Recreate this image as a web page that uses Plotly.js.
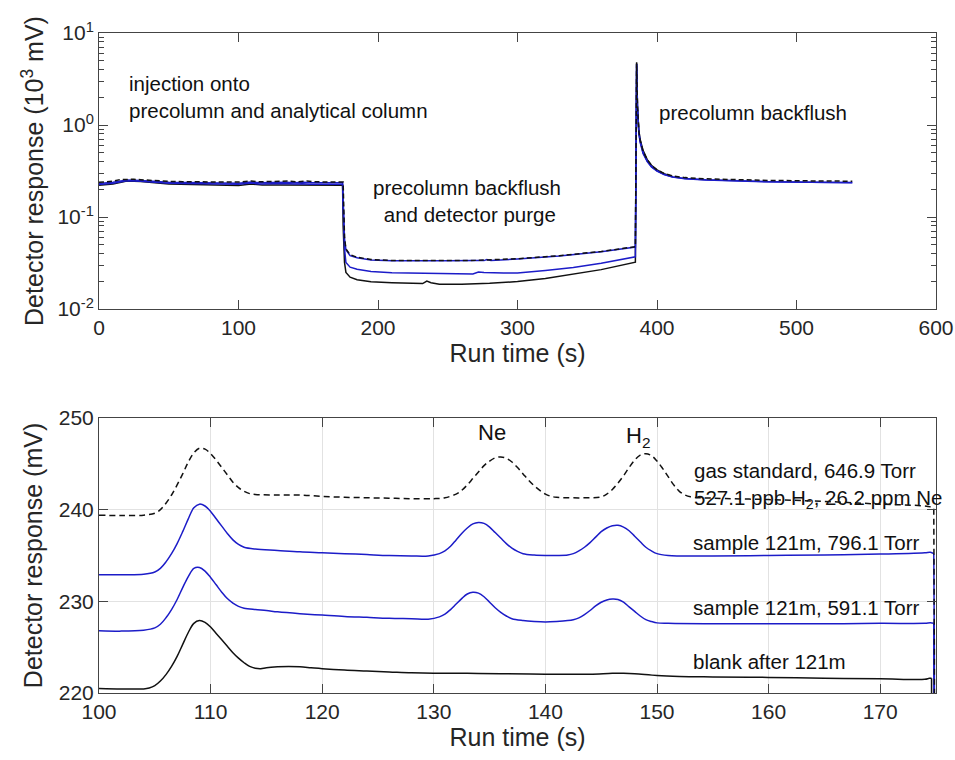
<!DOCTYPE html>
<html>
<head>
<meta charset="utf-8">
<script src="https://cdn.plot.ly/plotly-3.0.1.min.js"></script>
<style>html,body{margin:0;padding:0;background:#fff;}#chart{width:955px;height:760px;}</style>
</head>
<body>
<div id="chart"></div>
<script>
// ---------- Top panel (full run, units of 10^3 mV) ----------
var tTopStd = [0,5,10,15,20,25,30,40,50,60,80,100,109,115,136,142,149,155,175,175.5,176,177,180,185,195,210,230,250,270,300,330,360,384.5,385,385.4,386,387,388,390,393,396,400,405,411,420,435,455,480,510,540];
var vTopStd = [0.238,0.240,0.245,0.255,0.258,0.257,0.254,0.248,0.244,0.242,0.241,0.2395,0.2467,0.2416,0.2457,0.2413,0.2461,0.2413,0.2395,0.12,0.06,0.045,0.039,0.0365,0.0345,0.0337,0.0335,0.0336,0.0338,0.0352,0.0380,0.0422,0.0476,0.5,4.7,1.6,0.85,0.68,0.52,0.42,0.365,0.325,0.298,0.28,0.268,0.26,0.254,0.25,0.247,0.245];

var tTop796 = [0,10,20,30,50,80,100,109,115,134,140,146.5,152,174.6,175.5,176,177,180,185,195,210,230,250,270,276,278,281,300,330,360,384.5,385,385.4,386,387,388,390,393,396,400,405,411,420,435,455,480,510,540];
var vTop796 = [0.232,0.238,0.252,0.249,0.238,0.234,0.233,0.2406,0.2356,0.2386,0.235,0.2383,0.235,0.2353,0.12,0.058,0.044,0.038,0.036,0.0342,0.0335,0.0333,0.0334,0.0336,0.0336,0.0345,0.0337,0.0349,0.0377,0.0418,0.0472,0.5,4.6,1.55,0.83,0.66,0.5,0.405,0.355,0.318,0.292,0.273,0.262,0.254,0.247,0.242,0.239,0.237];

var tTop591 = [0,10,20,30,50,80,100,109,115,133.5,140,146,151,174.6,175.5,176,177,180,185,195,210,230,250,268,272,276,290,300,320,340,360,384.5,385,385.4,386,387,388,390,393,396,400,405,411,420,435,455,480,510,540];
var vTop591 = [0.226,0.232,0.248,0.245,0.233,0.228,0.2268,0.2337,0.229,0.231,0.2278,0.2303,0.2276,0.2276,0.1,0.045,0.032,0.0285,0.027,0.0255,0.0248,0.0244,0.0241,0.024,0.0252,0.0249,0.0246,0.0246,0.0262,0.0282,0.0315,0.0369,0.5,4.6,1.5,0.8,0.64,0.49,0.4,0.35,0.315,0.29,0.272,0.261,0.253,0.246,0.241,0.238,0.236];

var tTopBlank = [0,10,20,30,50,80,100,109,114.5,117,130,150,174.6,175,176,177,180,185,195,210,225,232,235,238,244,260,280,300,320,340,360,384.5,385,385.4,386,387,388,390,393,396,400,405,411.5];
var vTopBlank = [0.221,0.228,0.246,0.243,0.229,0.222,0.2205,0.2279,0.2226,0.2229,0.2221,0.2219,0.2216,0.08,0.032,0.025,0.0222,0.0208,0.0198,0.0193,0.019,0.0189,0.0201,0.0193,0.0186,0.0186,0.019,0.0199,0.0215,0.0238,0.0268,0.0323,0.5,4.8,1.6,0.86,0.69,0.53,0.42,0.365,0.325,0.295,0.274];

// ---------- Bottom panel (zoom 100-175 s, mV) ----------
var tStd = [100,102,104,105,105.5,106,106.5,107,107.5,108,108.5,109,109.5,110,110.5,111,111.5,112,112.5,113,113.5,114,116,118,120,122,124,126,128,130,131,132,132.5,133,133.5,134,134.5,135,135.5,136,136.5,137,137.5,138,138.5,139,139.5,140,140.5,141,142,144,145,145.5,146,146.5,147,147.5,148,148.5,149,149.5,150,150.5,151,151.5,152,152.5,153,155,160,165,170,174.5,174.8];
var vStd = [239.4,239.35,239.4,239.6,240.0,240.7,241.6,242.7,243.9,245.2,246.2,246.7,246.6,246.1,245.4,244.6,243.8,243.0,242.4,242.0,241.75,241.65,241.6,241.6,241.45,241.35,241.3,241.25,241.2,241.2,241.3,241.7,242.1,242.7,243.4,244.1,244.8,245.3,245.65,245.75,245.6,245.2,244.6,243.9,243.2,242.6,242.1,241.7,241.45,241.35,241.3,241.3,241.4,241.7,242.2,242.9,243.7,244.6,245.4,245.95,246.1,245.9,245.3,244.5,243.6,242.7,242.0,241.6,241.4,241.25,241.1,240.9,240.6,240.3,240.1];
var tStdDrop = [174.8,174.85,175];
var vStdDrop = [240.1,225,60];

var t796 = [100,102,104,105,105.5,106,106.5,107,107.5,108,108.5,109,109.5,110,110.5,111,111.5,112,112.5,113,114,116,118,120,122,124,126,128,129.5,130.5,131,131.5,132,132.5,133,133.5,134,134.5,135,135.5,136,136.5,137,137.5,138,139,140,141,142,142.5,143,143.5,144,144.5,145,145.5,146,146.5,147,147.5,148,148.5,149,149.5,150,151,152,155,160,165,170,174,174.5,174.8];
var v796 = [232.9,232.9,232.95,233.2,233.6,234.3,235.2,236.3,237.6,239.0,240.2,240.6,240.4,239.8,239.0,238.2,237.4,236.7,236.2,235.9,235.7,235.55,235.4,235.3,235.2,235.1,235.0,234.95,234.95,235.2,235.5,236.0,236.7,237.4,238.0,238.45,238.6,238.5,238.1,237.5,236.9,236.3,235.8,235.45,235.2,235.05,235.0,235.0,235.05,235.2,235.5,235.9,236.4,237.0,237.6,238.0,238.25,238.3,238.1,237.7,237.1,236.5,235.9,235.5,235.2,235.0,234.95,234.95,235.0,235.05,235.15,235.3,235.35,235.2];
var t796Drop = [174.8,174.85,175];
var v796Drop = [235.2,225,60];

var t591 = [100,102,104,105,105.5,106,106.5,107,107.5,108,108.5,109,109.5,110,110.5,111,111.5,112,112.5,113,114,115,116,118,120,122,124,126,128,129.5,130.5,131,131.5,132,132.5,133,133.5,134,134.5,135,135.5,136,136.5,137,138,139,140,141,142,142.5,143,143.5,144,144.5,145,145.5,146,146.5,147,147.5,148,148.5,149,149.5,150,151,155,160,165,170,174,174.5,174.8];
var v591 = [226.8,226.75,226.85,227.1,227.5,228.2,229.1,230.2,231.5,232.7,233.6,233.7,233.3,232.6,231.8,231.0,230.3,229.8,229.45,229.25,229.1,229.0,228.85,228.65,228.5,228.35,228.25,228.15,228.1,228.05,228.3,228.6,229.1,229.7,230.3,230.8,231.0,230.9,230.5,229.9,229.3,228.8,228.4,228.1,227.9,227.8,227.75,227.8,227.9,228.0,228.2,228.55,229.0,229.5,229.9,230.15,230.25,230.2,229.9,229.4,228.9,228.4,228.0,227.8,227.65,227.6,227.55,227.55,227.55,227.6,227.6,227.65,227.6];
var t591Drop = [174.8,174.85,175];
var v591Drop = [227.6,222,60];

var tBlank = [100,102,104,104.5,105,105.5,106,106.5,107,107.5,108,108.5,109,109.5,110,110.5,111,111.5,112,112.5,113,113.5,114,114.5,115,116,117,118,119,120,122,124,126,128,130,133,136,140,144,146,147,148,150,152,155,160,165,170,174,174.4,174.6];
var vBlank = [220.5,220.45,220.45,220.55,220.8,221.3,222.0,222.9,224.0,225.3,226.6,227.6,227.9,227.7,227.2,226.5,225.8,225.1,224.4,223.8,223.3,222.9,222.7,222.65,222.75,222.85,222.9,222.85,222.75,222.65,222.5,222.4,222.3,222.2,222.15,222.15,222.1,222.05,222.05,222.15,222.15,222.1,221.9,221.8,221.75,221.7,221.6,221.55,221.5,221.6,221.6];
var tBlankDrop = [174.6,174.65,174.8];
var vBlankDrop = [221.6,215,60];

var logTickVals = [0.01,0.1,1,10];
var logTickText = ['10<sup>-2</sup>','10<sup>-1</sup>','10<sup>0</sup>','10<sup>1</sup>'];

var BLUE = 'rgb(28,28,200)';
var BLACK = '#111111';
var FONT = 'Liberation Sans, Arial, Helvetica, sans-serif';
var AX = '#444444';

function ln(color, dash, shape){ return {color: color, width: 1.5, dash: dash || 'solid', shape: shape || 'linear', smoothing: 1}; }
function tr(x, y, xa, ya, line, name){ return {x:x, y:y, xaxis:xa, yaxis:ya, mode:'lines', line:line, name:name, hoverinfo:'skip'}; }

var traces = [
  tr(tTopBlank, vTopBlank, 'x', 'y', ln(BLACK), 'blank after 121m'),
  tr(tTop591, vTop591, 'x', 'y', ln(BLUE), 'sample 121m, 591.1 Torr'),
  tr(tTop796, vTop796, 'x', 'y', ln(BLUE), 'sample 121m, 796.1 Torr'),
  tr(tTopStd, vTopStd, 'x', 'y', ln(BLACK, '5px,3px'), 'gas standard'),
  tr(tBlank, vBlank, 'x2', 'y2', ln(BLACK, null, 'spline'), 'blank after 121m'),
  tr(tBlankDrop, vBlankDrop, 'x2', 'y2', ln(BLACK), 'blank after 121m'),
  tr(t591, v591, 'x2', 'y2', ln(BLUE, null, 'spline'), 'sample 121m, 591.1 Torr'),
  tr(t591Drop, v591Drop, 'x2', 'y2', ln(BLUE), 'sample 121m, 591.1 Torr'),
  tr(t796, v796, 'x2', 'y2', ln(BLUE, null, 'spline'), 'sample 121m, 796.1 Torr'),
  tr(t796Drop, v796Drop, 'x2', 'y2', ln(BLUE), 'sample 121m, 796.1 Torr'),
  tr(tStd, vStd, 'x2', 'y2', ln(BLACK, '6px,4px', 'spline'), 'gas standard'),
  tr(tStdDrop, vStdDrop, 'x2', 'y2', ln(BLACK, '6px,4px'), 'gas standard')
];

var axCommon = {
  showline: true, linecolor: AX, linewidth: 1, mirror: 'ticks',
  ticks: 'inside', ticklen: 9, tickcolor: AX, tickwidth: 1,
  zeroline: false, showgrid: false,
  tickfont: {family: FONT, size: 21, color: '#262626'},
  automargin: false
};
function merge(a, b){ var o = {}; for (var k in a) o[k] = a[k]; for (var k2 in b) o[k2] = b[k2]; return o; }

var ann = function(text, x, y, xa, ya, align, size){
  return {text: text, xref:'paper', yref:'paper', x: x, y: y, xanchor: xa, yanchor: ya || 'middle',
    align: align || 'left', showarrow: false, font: {family: FONT, size: size || 20.5, color: '#111'}};
};

var layout = {
  width: 955, height: 760,
  margin: {l: 99, r: 19, t: 33, b: 67},
  paper_bgcolor: '#fff', plot_bgcolor: '#fff',
  showlegend: false,
  font: {family: FONT, color: '#262626'},
  xaxis: merge(axCommon, {anchor:'y', domain:[0,1], range:[0,600], tickmode:'linear', tick0:0, dtick:100,
    title: {text:'Run time (s)', font:{family: FONT, size: 25, color:'#262626'}, standoff: 6}}),
  yaxis: merge(axCommon, {anchor:'x', domain:[0.5818,1], type:'log', range:[-2,1],
    tickmode:'array', tickvals: logTickVals, ticktext: logTickText,
    minor: {tickmode:'array', tickvals:[0.02,0.03,0.04,0.05,0.06,0.07,0.08,0.09,0.2,0.3,0.4,0.5,0.6,0.7,0.8,0.9,2,3,4,5,6,7,8,9], ticks:'inside', ticklen:5, tickcolor: AX, showgrid:false},
    title: {text:'Detector response (10<sup>3</sup> mV)', font:{family: FONT, size: 25, color:'#262626'}, standoff: 6}}),
  xaxis2: merge(axCommon, {anchor:'y2', domain:[0,1], range:[100,175], tickmode:'linear', tick0:100, dtick:10,
    showgrid: true, gridcolor:'#e2e2e2', gridwidth:1,
    title: {text:'Run time (s)', font:{family: FONT, size: 25, color:'#262626'}, standoff: 6}}),
  yaxis2: merge(axCommon, {anchor:'x2', domain:[0,0.4167], range:[220,250], tickmode:'linear', tick0:220, dtick:10,
    showgrid: true, gridcolor:'#e2e2e2', gridwidth:1,
    title: {text:'Detector response (mV)', font:{family: FONT, size: 25, color:'#262626'}, standoff: 8}}),
  annotations: [
    ann('injection onto<br>precolumn and analytical column', 0.0335, 0.903, 'left', 'middle', 'left'),
    ann('precolumn backflush<br> and detector purge', 0.4397, 0.7455, 'center', 'middle', 'center'),
    ann('precolumn backflush', 0.6667, 0.880, 'left', 'middle', 'left'),
    ann('Ne', 0.4695, 0.394, 'center', 'middle', 'center', 22),
    ann('H<sub>2</sub>', 0.6272, 0.388, 'left', 'middle', 'left', 22),
    ann('gas standard, 646.9 Torr<br>527.1 ppb H<sub>2</sub>, 26.2 ppm Ne', 0.7085, 0.315, 'left', 'middle', 'left'),
    ann('sample 121m, 796.1 Torr', 0.7073, 0.2273, 'left', 'middle', 'left'),
    ann('sample 121m, 591.1 Torr', 0.7073, 0.1303, 'left', 'middle', 'left'),
    ann('blank after 121m', 0.7073, 0.047, 'left', 'middle', 'left')
  ]
};

Plotly.newPlot('chart', traces, layout, {displayModeBar: false, staticPlot: true});
</script>
</body>
</html>
